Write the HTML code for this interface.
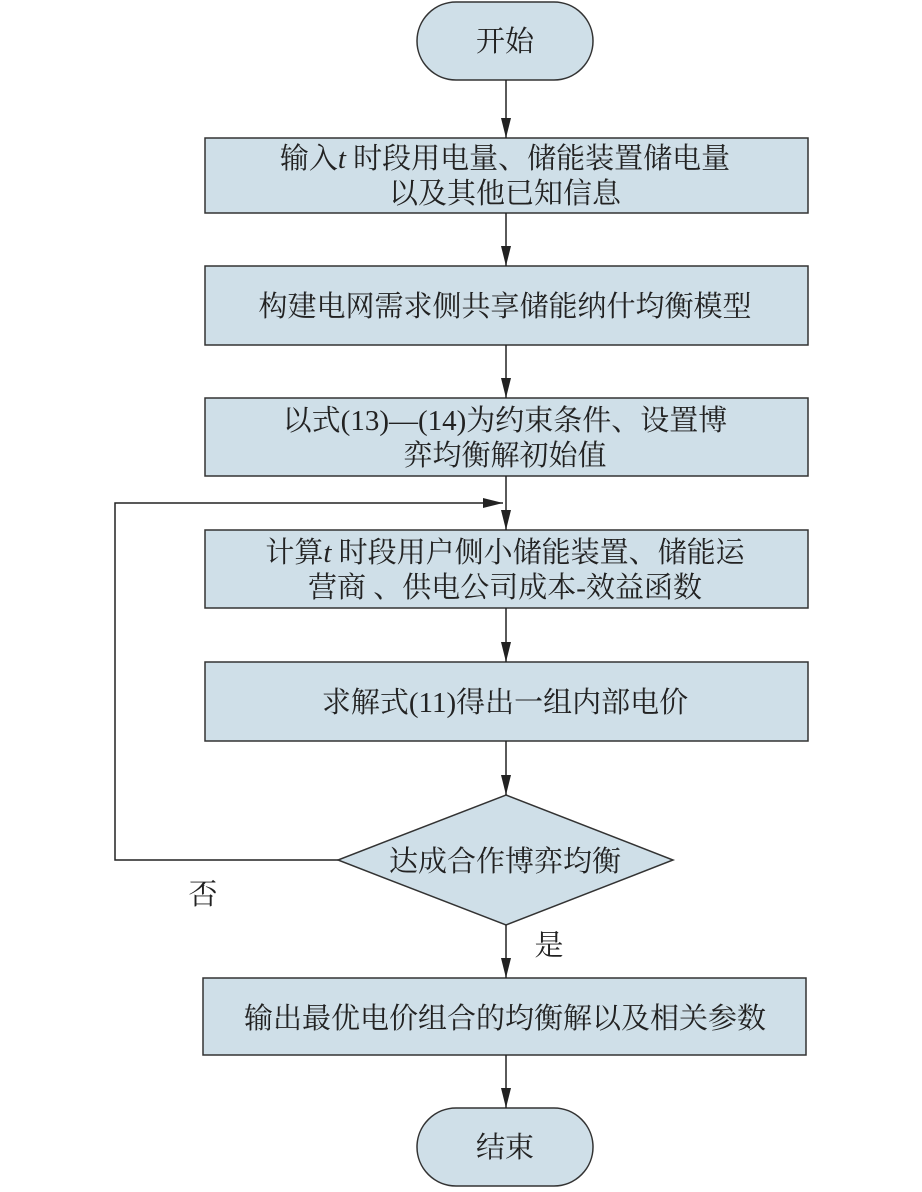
<!DOCTYPE html>
<html><head><meta charset="utf-8"><style>
html,body{margin:0;padding:0;background:#fff;}
svg text{font-family:"Liberation Serif","Noto Serif CJK SC",serif;font-size:29px;fill:#222;text-anchor:middle;}
</style></head><body>
<svg width="922" height="1187" viewBox="0 0 922 1187" xmlns="http://www.w3.org/2000/svg">
<defs>
<marker id="b" viewBox="0 0 20 10" markerWidth="20" markerHeight="10" refX="20" refY="5" orient="auto" markerUnits="userSpaceOnUse"><path d="M0,0 L20,5 L0,10 z" fill="#222"/></marker></defs>
<g stroke="#333" stroke-width="1.5" fill="#cfdfe8">
<rect x="417" y="2" width="176" height="78" rx="39"/>
<rect x="205" y="138" width="603" height="75"/>
<rect x="205" y="266" width="603" height="79"/>
<rect x="205" y="398" width="603" height="78"/>
<rect x="205" y="530" width="603" height="78"/>
<rect x="205" y="662" width="603" height="79"/>
<polygon points="506,795 673,860 506,925 338,860"/>
<rect x="203" y="978" width="603" height="77"/>
<rect x="417" y="1108" width="176" height="78" rx="39"/>
</g>
<g stroke="#222" stroke-width="1.5" fill="none">
<line x1="506" y1="80" x2="506" y2="138" marker-end="url(#b)"/>
<line x1="506" y1="213" x2="506" y2="266" marker-end="url(#b)"/>
<line x1="506" y1="345" x2="506" y2="398" marker-end="url(#b)"/>
<line x1="506" y1="476" x2="506" y2="530" marker-end="url(#b)"/>
<line x1="506" y1="608" x2="506" y2="662" marker-end="url(#b)"/>
<line x1="506" y1="741" x2="506" y2="795" marker-end="url(#b)"/>
<line x1="506" y1="925" x2="506" y2="978" marker-end="url(#b)"/>
<line x1="506" y1="1055" x2="506" y2="1108" marker-end="url(#b)"/>
<polyline points="338,860 115,860 115,503 503,503" marker-end="url(#b)"/>
</g>
<text x="505" y="51">开始</text>
<text x="505" y="168">输入<tspan font-style="italic">t</tspan> 时段用电量、储能装置储电量</text>
<text x="505" y="203">以及其他已知信息</text>
<text x="505" y="316">构建电网需求侧共享储能纳什均衡模型</text>
<text x="505" y="430">以式(13)—(14)为约束条件、设置博</text>
<text x="505" y="465">弈均衡解初始值</text>
<text x="505" y="562">计算<tspan font-style="italic">t</tspan> 时段用户侧小储能装置、储能运</text>
<text x="505" y="597">营商 、供电公司成本-效益函数</text>
<text x="505" y="712">求解式(11)得出一组内部电价</text>
<text x="505" y="871">达成合作博弈均衡</text>
<text x="203" y="904">否</text>
<text x="549" y="955">是</text>
<text x="505" y="1028">输出最优电价组合的均衡解以及相关参数</text>
<text x="505" y="1157">结束</text>
</svg>
</body></html>
